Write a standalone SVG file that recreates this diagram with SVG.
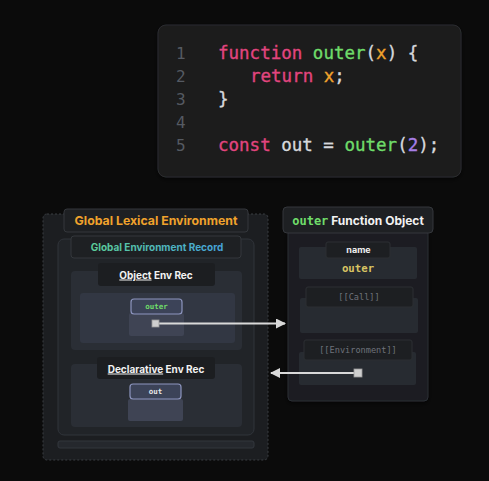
<svg xmlns="http://www.w3.org/2000/svg" width="489" height="481" viewBox="0 0 489 481">
<defs>
<style>
.mono{font-family:"DejaVu Sans Mono","Liberation Mono",monospace}
.sans{font-family:"Inter","Liberation Sans",sans-serif}
.code{font-size:17.5px;stroke-width:0.35}
.ln{font-size:16px;fill:#555a62}
.kw{fill:#e2457f;stroke:#e2457f}
.fn{fill:#6fdc6a;stroke:#6fdc6a}
.pm{fill:#f0a22c;stroke:#f0a22c}
.pl{fill:#d6d8dc;stroke:#d6d8dc}
.num{fill:#a67ee6;stroke:#a67ee6}
.hdr{fill:#1e2023;stroke:#34373c;stroke-width:1}
.lbl{fill:#1d1f22;stroke:#2c2f33;stroke-width:1}
.sect{fill:#272b31}
.title{font-weight:700;fill:#f2f2f2;font-size:10px;text-anchor:middle}
.pill{fill:#3c4358;stroke:#8d95bf;stroke-width:1.2}
.slot{fill:#3f4454}
.conn{stroke:#d9d9d9;stroke-width:2;fill:none}
.anchor{fill:#cfcfcf;stroke:#9a9a9a;stroke-width:0.8}
.slotlbl{font-size:8.6px;fill:#6e727a;text-anchor:middle}
</style>
<linearGradient id="gerGrad" x1="0" y1="0" x2="1" y2="0">
<stop offset="0" stop-color="#5ccf98"/>
<stop offset="1" stop-color="#45a2dc"/>
</linearGradient>
<marker id="ah" viewBox="0 0 10 10" refX="9" refY="5" markerWidth="5" markerHeight="5" orient="auto-start-reverse" markerUnits="strokeWidth">
<path d="M0,0 L10,5 L0,10 z" fill="#d9d9d9"/>
</marker>
<filter id="sh" x="-20%" y="-20%" width="140%" height="140%">
<feDropShadow dx="0" dy="2" stdDeviation="2" flood-color="#000" flood-opacity="0.6"/>
</filter>
</defs>
<rect width="489" height="481" fill="#0b0b0b"/>

<g id="code">
<rect x="158" y="25" width="303" height="152" rx="8" fill="#1b1c1e" stroke="#2c2d30" filter="url(#sh)"/>
<g class="mono ln">
<text x="176" y="59">1</text>
<text x="176" y="82">2</text>
<text x="176" y="105">3</text>
<text x="176" y="128">4</text>
<text x="176" y="151">5</text>
</g>
<g class="mono code" xml:space="preserve">
<text x="218" y="59"><tspan class="kw">function</tspan><tspan class="pl"> </tspan><tspan class="fn">outer</tspan><tspan class="pl">(</tspan><tspan class="pm">x</tspan><tspan class="pl">) {</tspan></text>
<text x="250" y="82"><tspan class="kw">return</tspan><tspan class="pl"> </tspan><tspan class="pm">x</tspan><tspan class="pl">;</tspan></text>
<text x="218" y="105" class="pl">}</text>
<text x="218" y="151"><tspan class="kw">const</tspan><tspan class="pl"> out = </tspan><tspan class="fn">outer</tspan><tspan class="pl">(</tspan><tspan class="num">2</tspan><tspan class="pl">);</tspan></text>
</g>
</g>

<g id="global-lexical-env">
<rect x="43" y="214" width="225" height="246" rx="4" fill="#1c1e21" stroke="#3b3e43" stroke-dasharray="2 2"/>
<rect x="64" y="209" width="184" height="23" rx="3" class="hdr"/>
<text x="156" y="225" class="sans" font-size="12.3" font-weight="700" fill="#f0a22c" text-anchor="middle">Global Lexical Environment</text>
</g>

<g id="global-env-record">
<rect x="58" y="239" width="196" height="196" rx="6" fill="#212428" stroke="#30343a"/>
<rect x="71" y="236" width="170" height="22" rx="3" class="hdr"/>
<text x="157" y="250.5" class="sans" font-size="10" font-weight="700" fill="url(#gerGrad)" text-anchor="middle">Global Environment Record</text>
<rect x="58" y="441" width="196" height="7" rx="2" fill="#25282d" stroke="#33373d"/>
</g>

<g id="object-env-rec">
<rect x="71" y="271" width="171" height="79" rx="4" fill="#2a2e35"/>
<rect x="80" y="293" width="155" height="50" rx="3" fill="#323743"/>
<rect x="98" y="263" width="117" height="23" rx="3" fill="#1c1e21"/>
<text x="156" y="278.5" class="sans title"><tspan text-decoration="underline">Object</tspan> Env Rec</text>
</g>

<g id="outer-binding">
<rect x="129" y="313" width="55" height="23" rx="2" class="slot"/>
<rect x="131" y="299" width="51" height="15" rx="3" class="pill"/>
<text x="156.5" y="309.3" class="mono" font-size="7.5" font-weight="700" fill="#6fdc6a" text-anchor="middle">outer</text>
</g>

<g id="declarative-env-rec">
<rect x="71" y="364" width="171" height="63" rx="4" fill="#2a2e35"/>
<rect x="97" y="357" width="118" height="22" rx="3" fill="#1c1e21"/>
<text x="156" y="372.5" class="sans title"><tspan text-decoration="underline">Declarative</tspan> Env Rec</text>
</g>

<g id="out-binding">
<rect x="128" y="399" width="55" height="22" rx="2" class="slot"/>
<rect x="130" y="384" width="51" height="15" rx="3" class="pill"/>
<text x="155.5" y="394.3" class="mono" font-size="7.5" font-weight="700" fill="#e6e6e6" text-anchor="middle">out</text>
</g>

<g id="function-object">
<rect x="288" y="230" width="140" height="171" rx="4" fill="#1c1e22" stroke="#2c2f34" filter="url(#sh)"/>
<rect x="283" y="207" width="150" height="26" rx="4" class="hdr"/>
<text x="358" y="224.5" text-anchor="middle" font-size="12" font-weight="700"><tspan class="mono" fill="#6fdc6a">outer</tspan><tspan class="sans" fill="#f2f2f2"> Function Object</tspan></text>
<rect x="299" y="247" width="118" height="32" rx="2" class="sect"/>
<rect x="326" y="242" width="64" height="16" rx="2" class="lbl"/>
<text x="358.5" y="253" class="sans" font-size="9" font-weight="700" fill="#eeeeee" text-anchor="middle">name</text>
<text x="358" y="271.5" class="mono" font-size="10.7" font-weight="700" fill="#d8c463" text-anchor="middle">outer</text>
<rect x="300" y="298" width="118" height="35" rx="2" class="sect"/>
<rect x="306" y="287" width="107" height="20" rx="2" class="lbl"/>
<text x="359" y="300" class="mono slotlbl">[[Call]]</text>
<rect x="299" y="352" width="117" height="33" rx="2" class="sect"/>
<rect x="304" y="340" width="108" height="20" rx="2" class="lbl"/>
<text x="358" y="353" class="mono slotlbl">[[Environment]]</text>
</g>

<g id="connectors">
<line x1="156" y1="323.5" x2="285" y2="323.5" class="conn" marker-end="url(#ah)"/>
<rect x="152" y="320" width="7" height="7" class="anchor"/>
<line x1="358" y1="373" x2="271" y2="373" class="conn" marker-end="url(#ah)"/>
<rect x="354" y="369" width="8" height="8" class="anchor"/>
</g>
</svg>
